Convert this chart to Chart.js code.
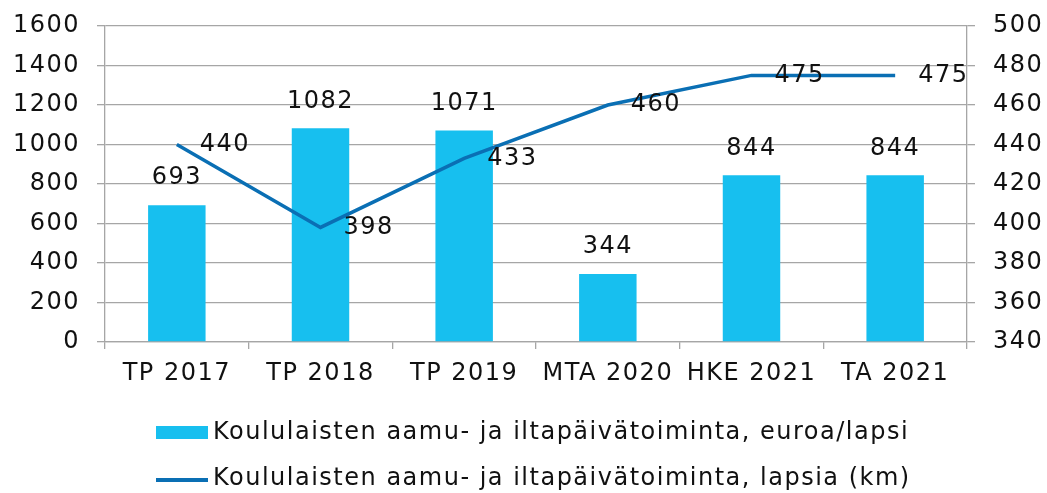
<!DOCTYPE html>
<html>
<head>
<meta charset="utf-8">
<script src="https://cdn.jsdelivr.net/npm/chart.js@4.4.0/dist/chart.umd.min.js"></script>
<style>
  html, body { margin: 0; padding: 0; background: #fff; }
  #wrap { width: 1047px; height: 493px; }
</style>
</head>
<body>
<div id="wrap"><canvas id="chart" width="1047" height="493"></canvas></div>
<script>
// data
const categories = ["TP 2017", "TP 2018", "TP 2019", "MTA 2020", "HKE 2021", "TA 2021"];
const costPerChild = [693, 1082, 1071, 344, 844, 844];
const childCount = [440, 398, 433, 460, 475, 475];
const seriesNames = [
  "Koululaisten aamu- ja iltapäivätoiminta, euroa/lapsi",
  "Koululaisten aamu- ja iltapäivätoiminta, lapsia (km)"
];
const leftAxis = { min: 0, max: 1600, step: 200 };
const rightAxis = { min: 340, max: 500, step: 20 };

const barColor = "#17BFEF";
const lineColor = "#0A6FB4";
const gridColor = "#A6A6A6";
const textColor = "#111";
const fontFamily = "'DejaVu Sans', sans-serif";
const fontSize = 24;

const spacingPlugin = {
  id: "spacing",
  beforeDraw(chart) {
    chart.ctx.letterSpacing = "1.5px";
  }
};

// value labels: above bars, right of line points
const valueLabels = {
  id: "valueLabels",
  afterDatasetsDraw(chart) {
    const ctx = chart.ctx;
    ctx.save();
    ctx.font = fontSize + "px " + fontFamily;
    ctx.fillStyle = textColor;
    ctx.textBaseline = "middle";
    chart.getDatasetMeta(0).data.forEach((el, i) => {
      ctx.textAlign = "center";
      ctx.fillText(String(costPerChild[i]), el.x, el.y - 27);
    });
    chart.getDatasetMeta(1).data.forEach((el, i) => {
      ctx.textAlign = "left";
      ctx.fillText(String(childCount[i]), el.x + 23, el.y);
    });
    ctx.restore();
  }
};

// two-row legend under the axis
const bottomLegend = {
  id: "bottomLegend",
  afterDraw(chart) {
    const ctx = chart.ctx;
    const x0 = 156;
    ctx.save();
    ctx.font = fontSize + "px " + fontFamily;
    ctx.textBaseline = "middle";
    ctx.textAlign = "left";

    ctx.fillStyle = barColor;
    ctx.fillRect(x0, 426, 52, 13);
    ctx.fillStyle = textColor;
    ctx.fillText(seriesNames[0], x0 + 57, 433);

    ctx.strokeStyle = lineColor;
    ctx.lineWidth = 4;
    ctx.beginPath();
    ctx.moveTo(x0, 480);
    ctx.lineTo(x0 + 52, 480);
    ctx.stroke();
    ctx.fillText(seriesNames[1], x0 + 57, 479);
    ctx.restore();
  }
};

const plainNumber = (v) => String(v);

function fitSide(width) {
  return (scale) => {
    scale.width = width;
    scale.paddingTop = 0;
    scale.paddingBottom = 0;
  };
}

new Chart(document.getElementById("chart"), {
  data: {
    labels: categories,
    datasets: [
      {
        type: "bar",
        label: seriesNames[0],
        data: costPerChild,
        backgroundColor: barColor,
        yAxisID: "y",
        barPercentage: 0.4,
        categoryPercentage: 1.0,
        order: 1
      },
      {
        type: "line",
        label: seriesNames[1],
        data: childCount,
        borderColor: lineColor,
        borderWidth: 3.5,
        pointRadius: 0,
        tension: 0,
        fill: false,
        yAxisID: "y1",
        order: 0
      }
    ]
  },
  options: {
    responsive: false,
    animation: false,
    devicePixelRatio: 1,
    layout: { padding: { top: 26, left: 0, right: 0, bottom: 111 } },
    plugins: {
      legend: { display: false },
      tooltip: { enabled: false },
      title: { display: false }
    },
    font: { family: fontFamily },
    scales: {
      x: {
        position: "bottom",
        grid: { offset: true, drawOnChartArea: false, color: gridColor, lineWidth: 1.3, tickLength: 7 },
        border: { color: gridColor, width: 1.3 },
        ticks: { color: textColor, font: { family: fontFamily, size: fontSize }, padding: 10, maxRotation: 0, autoSkip: false },
        afterFit(scale) { scale.height = 40; }
      },
      y: {
        position: "left",
        min: leftAxis.min,
        max: leftAxis.max,
        grid: { color: gridColor, lineWidth: 1.3, tickLength: 8 },
        border: { color: gridColor, width: 1.3 },
        ticks: { stepSize: leftAxis.step, color: textColor, font: { family: fontFamily, size: fontSize }, padding: 17, callback: plainNumber },
        afterFit: fitSide(105)
      },
      y1: {
        position: "right",
        min: rightAxis.min,
        max: rightAxis.max,
        grid: { drawOnChartArea: false, color: gridColor, lineWidth: 1.3, tickLength: 8 },
        border: { color: gridColor, width: 1.3 },
        ticks: { stepSize: rightAxis.step, color: textColor, font: { family: fontFamily, size: fontSize }, padding: 18, callback: plainNumber },
        afterFit: fitSide(80)
      }
    }
  },
  plugins: [spacingPlugin, valueLabels, bottomLegend]
});
</script>
</body>
</html>
